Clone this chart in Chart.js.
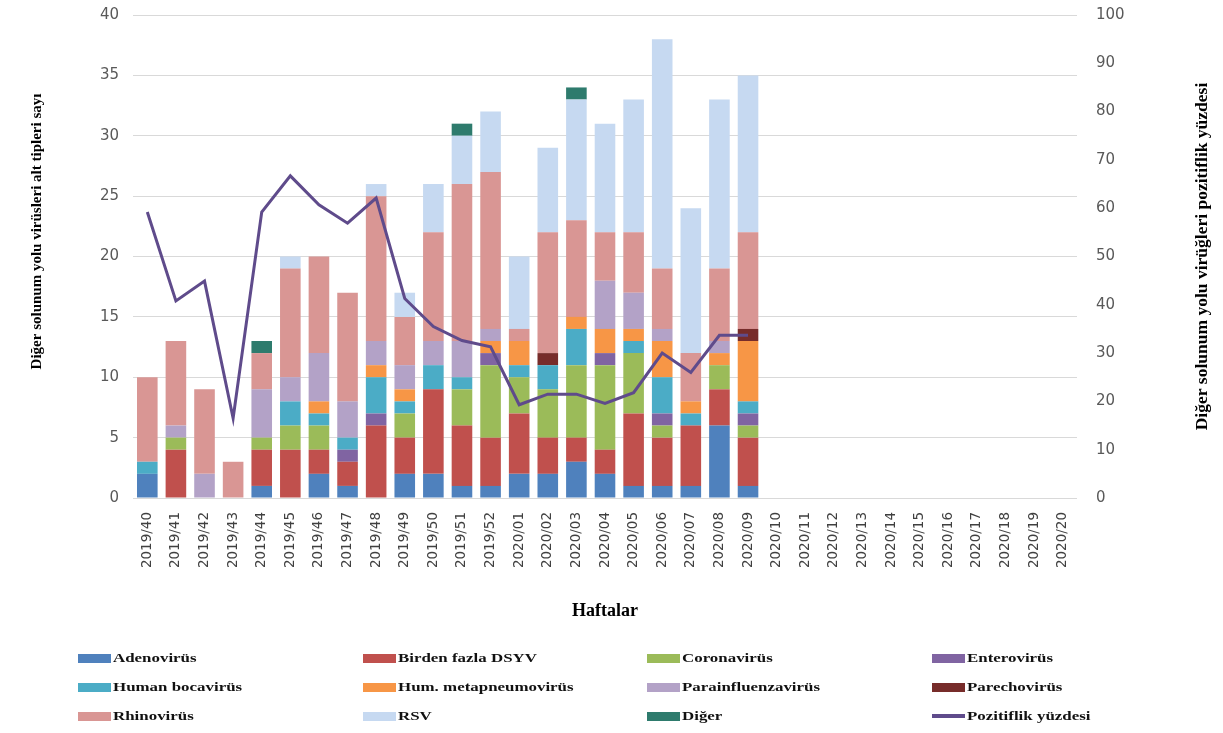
<!DOCTYPE html>
<html lang="tr">
<head>
<meta charset="utf-8">
<title>Diğer solunum yolu virüsleri</title>
<script src="https://cdn.jsdelivr.net/npm/chart.js@4.4.1/dist/chart.umd.min.js"></script>
<style>
  html, body { margin: 0; padding: 0; background: #fff; }
  #wrap { position: relative; width: 1223px; height: 733px; overflow: hidden; }
  #c { position: absolute; left: 0; top: 0; }
  #legend { position: absolute; left: 0; top: 0; width: 1223px; height: 733px; pointer-events: none; }
  .item { position: absolute; height: 20px; display: flex; align-items: center; white-space: nowrap; }
  .sw { width: 33px; height: 9px; flex: none; }
  .sw.line { height: 4px; }
  .lbl { display: inline-block; margin-left: 2px; font: bold 13px "Liberation Serif", "Times New Roman", serif;
         color: #111; transform: scaleX(1.3); transform-origin: left center; }
</style>
</head>
<body>
<div id="wrap">
  <canvas id="c" width="1223" height="640"></canvas>
  <div id="legend"></div>
</div>
<script>
// Weeks (x categories)
const weeks = [
  '2019/40','2019/41','2019/42','2019/43','2019/44','2019/45','2019/46','2019/47','2019/48',
  '2019/49','2019/50','2019/51','2019/52',
  '2020/01','2020/02','2020/03','2020/04','2020/05','2020/06','2020/07','2020/08','2020/09',
  '2020/10','2020/11','2020/12','2020/13','2020/14','2020/15','2020/16','2020/17','2020/18',
  '2020/19','2020/20'
];

// Weekly counts per virus type (2019/40 – 2020/09)
const adenovirus     = [2,0,0,0,1,0,2,1,0,2,2,1,1,2,2,3,2,1,1,1,6,1];
const birdenFazla    = [0,4,0,0,3,4,2,2,6,3,7,5,4,5,3,2,2,6,4,5,3,4];
const coronavirus    = [0,1,0,0,1,2,2,0,0,2,0,3,6,3,4,6,7,5,1,0,2,1];
const enterovirus    = [0,0,0,0,0,0,0,1,1,0,0,0,1,0,0,0,1,0,1,0,0,1];
const bocavirus      = [1,0,0,0,0,2,1,1,3,1,2,1,0,1,2,3,0,1,3,1,0,1];
const metapneumo     = [0,0,0,0,0,0,1,0,1,1,0,0,1,2,0,1,2,1,3,1,1,5];
const parainfluenza  = [0,1,2,0,4,2,4,3,2,2,2,3,1,0,0,0,4,3,1,0,1,0];
const parechovirus   = [0,0,0,0,0,0,0,0,0,0,0,0,0,0,1,0,0,0,0,0,0,1];
const rhinovirus     = [7,7,7,3,3,9,8,9,12,4,9,13,13,1,10,8,4,5,5,4,6,8];
const rsv            = [0,0,0,0,0,1,0,0,1,2,4,4,5,6,7,10,9,11,19,12,14,13];
const diger          = [0,0,0,0,1,0,0,0,0,0,0,1,0,0,0,1,0,0,0,0,0,0];

// Weekly positivity percentage (right axis)
const pozitiflik = [59.2,40.8,44.9,16.5,59.2,66.7,60.7,56.9,62.1,41.3,35.5,32.6,31.3,
                    19.3,21.5,21.5,19.6,21.8,30.0,26.0,33.7,33.7];

const leftTicks = { min: 0, max: 40, step: 5 };
const rightTicks = { min: 0, max: 100, step: 10 };

const barSeries = [
  ['Adenovirüs', adenovirus, '#4F81BD'],
  ['Birden fazla DSYV', birdenFazla, '#C0504D'],
  ['Coronavirüs', coronavirus, '#9BBB59'],
  ['Enterovirüs', enterovirus, '#8064A2'],
  ['Human bocavirüs', bocavirus, '#4BACC6'],
  ['Hum. metapneumovirüs', metapneumo, '#F79646'],
  ['Parainfluenzavirüs', parainfluenza, '#B3A2C7'],
  ['Parechovirüs', parechovirus, '#772C2A'],
  ['Rhinovirüs', rhinovirus, '#D99694'],
  ['RSV', rsv, '#C6D9F1'],
  ['Diğer', diger, '#2E7B6D']
];

const datasets = barSeries.map(([label, data, color]) => ({
  type: 'bar',
  label, data,
  backgroundColor: color,
  borderWidth: 0,
  barPercentage: 0.72,
  categoryPercentage: 1,
  yAxisID: 'y',
  order: 1
}));

datasets.push({
  type: 'line',
  label: 'Pozitiflik yüzdesi',
  data: pozitiflik,
  borderColor: '#5F4B8B',
  backgroundColor: '#5F4B8B',
  borderWidth: 3,
  pointRadius: 0,
  tension: 0,
  fill: false,
  yAxisID: 'y1',
  order: 0
});

// Rotated titles for both value axes (both read bottom-to-top)
const sideTitles = {
  id: 'sideTitles',
  afterDraw(chart) {
    const { ctx, chartArea, scales } = chart;
    const mid = (chartArea.top + chartArea.bottom) / 2;
    ctx.save();
    ctx.fillStyle = '#000';
    ctx.textAlign = 'center';
    ctx.textBaseline = 'middle';

    ctx.save();
    ctx.font = 'bold 15px "Liberation Serif"';
    ctx.translate(scales.y.left + 37, mid - 25);
    ctx.rotate(-Math.PI / 2);
    ctx.fillText('Diğer solunum yolu virüsleri alt tipleri sayı', 0, 0);
    ctx.restore();

    ctx.save();
    ctx.font = 'bold 17.5px "Liberation Serif"';
    ctx.translate(scales.y1.right - 21, mid);
    ctx.rotate(-Math.PI / 2);
    ctx.fillText('Diğer solunum yolu virüğleri pozitiflik yüzdesi', 0, 0);
    ctx.restore();

    ctx.restore();
  }
};

// Value axes: fixed width, and only half a label of room above the top tick
function fitValueAxis(width) {
  return s => {
    s.width = width;
    s.paddingTop = 8;
    s.paddingBottom = 8;
  };
}

const chart = new Chart(document.getElementById('c'), {
  data: { labels: weeks, datasets },
  plugins: [sideTitles],
  options: {
    responsive: false,
    animation: false,
    devicePixelRatio: 1,
    layout: { padding: { top: 15, left: 0, right: 0, bottom: 0 } },
    plugins: { legend: { display: false }, tooltip: { enabled: false } },
    scales: {
      x: {
        stacked: true,
        grid: { display: false, drawTicks: false },
        border: { display: false },
        ticks: {
          autoSkip: false, minRotation: 90, maxRotation: 90, padding: 14,
          color: '#404040', font: { family: 'DejaVu Sans', size: 13.5 }
        },
        title: {
          display: true, text: 'Haftalar', color: '#000',
          font: { family: 'Liberation Serif', size: 18, weight: 'bold' },
          padding: { top: 0, bottom: 18 }
        },
        afterFit(s) { s.height = 142; }
      },
      y: {
        stacked: true,
        min: leftTicks.min, max: leftTicks.max,
        ticks: { stepSize: leftTicks.step, padding: 14, color: '#595959', font: { family: 'DejaVu Sans', size: 15 } },
        grid: { color: '#d9d9d9', lineWidth: 1, drawTicks: false },
        border: { display: false },
        afterFit: fitValueAxis(133)
      },
      y1: {
        position: 'right',
        min: rightTicks.min, max: rightTicks.max,
        ticks: { stepSize: rightTicks.step, padding: 19, color: '#595959', font: { family: 'DejaVu Sans', size: 15 } },
        grid: { display: false, drawTicks: false },
        border: { display: false },
        afterFit: fitValueAxis(146)
      }
    }
  }
});

// Legend: 4 columns x 3 rows under the chart
const legendCols = [78, 363, 647, 932];
const legendRows = [658, 687, 716];
const legendEl = document.getElementById('legend');
chart.data.datasets.forEach((ds, i) => {
  const item = document.createElement('div');
  item.className = 'item';
  item.style.left = legendCols[i % 4] + 'px';
  item.style.top = (legendRows[Math.floor(i / 4)] - 10) + 'px';
  const sw = document.createElement('span');
  sw.className = 'sw' + (ds.type === 'line' ? ' line' : '');
  sw.style.background = ds.type === 'line' ? ds.borderColor : ds.backgroundColor;
  const lbl = document.createElement('span');
  lbl.className = 'lbl';
  lbl.textContent = ds.label;
  item.appendChild(sw);
  item.appendChild(lbl);
  legendEl.appendChild(item);
});
</script>
</body>
</html>
